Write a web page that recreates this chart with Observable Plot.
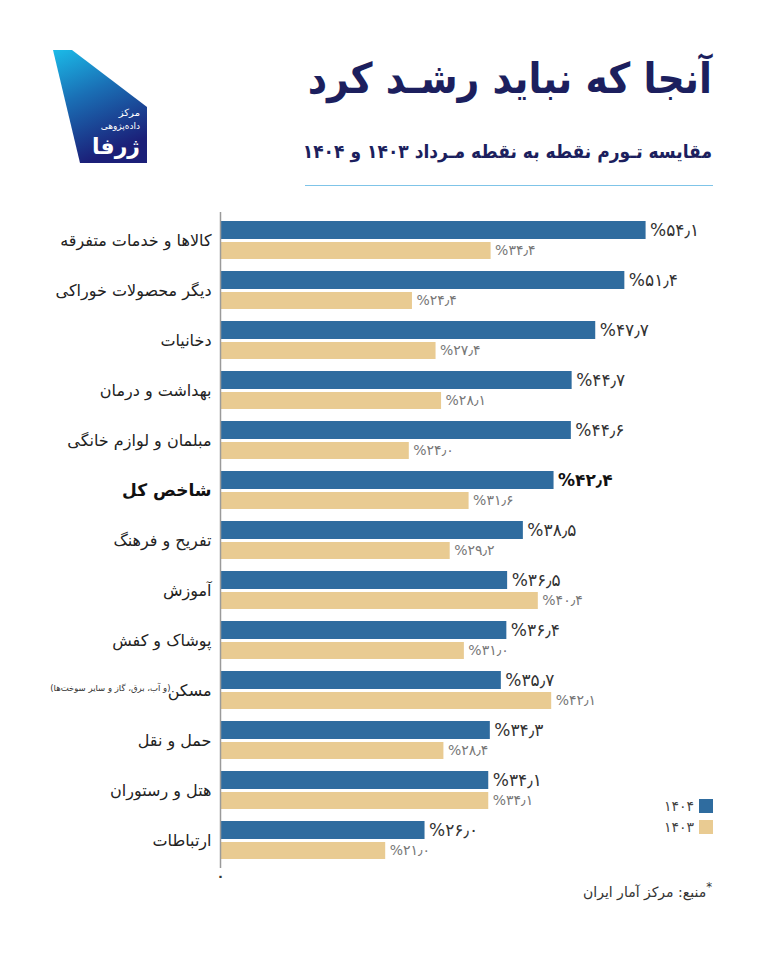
<!DOCTYPE html>
<html lang="fa">
<head>
<meta charset="utf-8">
<script src="https://cdn.jsdelivr.net/npm/d3@7"></script>
<script src="https://cdn.jsdelivr.net/npm/@observablehq/plot@0.6"></script>
<style>
  html, body { margin: 0; padding: 0; background: #fff; }
  body { width: 768px; height: 960px; position: relative; overflow: hidden; font-family: "DejaVu Sans", "Noto Sans", sans-serif; }
  .abs { position: absolute; }
  #title { right: 56px; top: 54px; font-family: "DejaVu Sans Condensed", "DejaVu Sans", sans-serif; font-size: 42px; font-weight: bold; color: #1c1f5e; direction: rtl; white-space: nowrap; line-height: 1.2; }
  #subtitle { right: 56px; top: 140px; font-family: "DejaVu Sans Condensed", "DejaVu Sans", sans-serif; font-size: 19px; color: #1c1f5e; direction: rtl; white-space: nowrap; font-weight: 600; }
  #rule { left: 305px; width: 408px; top: 185px; height: 1px; background: #7fc4e8; }
  #chart { left: 0; top: 200px; }
  #legend { right: 55px; top: 795px; font-size: 14px; color: #444; }
  #legend .row { display: flex; align-items: center; justify-content: flex-end; gap: 5px; height: 21px; }
  #legend .sw { width: 14px; height: 14px; display: inline-block; }
  #source { right: 56px; top: 880px; font-size: 14px; color: #333; direction: rtl; white-space: nowrap; }
</style>
</head>
<body>
<svg class="abs" style="left:0;top:0" width="170" height="180">
  <defs>
    <linearGradient id="lg" x1="0" y1="0" x2="0.35" y2="1">
      <stop offset="0" stop-color="#1bbbe8"/>
      <stop offset="0.45" stop-color="#1a6fb5"/>
      <stop offset="1" stop-color="#1b1f78"/>
    </linearGradient>
  </defs>
  <polygon points="53,50 72,50 147,107 147,163 80,163" fill="url(#lg)"/>
  <text x="140" y="116" fill="#fff" font-size="10" text-anchor="end">مرکز</text>
  <text x="140" y="129" fill="#fff" font-size="9" text-anchor="end">داده‌پژوهی</text>
  <text x="140" y="154" fill="#fff" font-size="22" font-weight="bold" text-anchor="end">ژرفا</text>
</svg>
<div id="title" class="abs">آنجا که نباید رشـد کرد</div>
<div id="subtitle" class="abs">مقایسه تـورم نقطه به نقطه مـرداد ۱۴۰۳ و ۱۴۰۴</div>
<div id="rule" class="abs"></div>
<div id="chart" class="abs"></div>
<div id="legend" class="abs">
  <div class="row"><span>۱۴۰۴</span><span class="sw" style="background:#2f6c9f"></span></div>
  <div class="row"><span>۱۴۰۳</span><span class="sw" style="background:#e9cb92"></span></div>
</div>
<div id="source" class="abs"><sup>*</sup>منبع: مرکز آمار ایران</div>
<script>
const categories = [
  "کالاها و خدمات متفرقه",
  "دیگر محصولات خوراکی",
  "دخانیات",
  "بهداشت و درمان",
  "مبلمان و لوازم خانگی",
  "شاخص کل",
  "تفریح و فرهنگ",
  "آموزش",
  "پوشاک و کفش",
  "مسکن",
  "حمل و نقل",
  "هتل و رستوران",
  "ارتباطات"
];
const values1404 = [54.1, 51.4, 47.7, 44.7, 44.6, 42.4, 38.5, 36.5, 36.4, 35.7, 34.3, 34.1, 26.0];
const values1403 = [34.4, 24.4, 27.4, 28.1, 24.0, 31.6, 29.2, 40.4, 31.0, 42.1, 28.4, 34.1, 21.0];
const boldCategory = "شاخص کل";
const noteCategory = "مسکن";
const noteText = "(و آب، برق، گاز و سایر سوخت‌ها)";
const zeroTick = "۰";

const BLUE = "#2f6c9f", BEIGE = "#e9cb92";
const fa = d => d.toFixed(1).replace(/\d/g, c => "۰۱۲۳۴۵۶۷۸۹"[c]).replace(".", "٫");
const rlm = s => "\u200F" + s + "\u200F";

const rows = categories.map((c, i) => ({cat: c, v4: values1404[i], v3: values1403[i]}));
const normalRows = rows.filter(d => d.cat !== boldCategory);
const boldRows = rows.filter(d => d.cat === boldCategory);

const chart = Plot.plot({
  width: 768,
  height: 688,
  marginLeft: 220,
  marginRight: 76,
  marginTop: 12,
  marginBottom: 20,
  style: {fontFamily: "DejaVu Sans, Noto Sans, sans-serif", background: "transparent"},
  x: {domain: [0, 60], axis: null},
  y: {domain: categories, paddingInner: 0.24, paddingOuter: 0.18, axis: null},
  marks: [
    Plot.barX(rows, {x: "v4", y: "cat", fill: BLUE, insetBottom: 20}),
    Plot.barX(rows, {x: "v3", y: "cat", fill: BEIGE, insetTop: 21}),
    Plot.ruleX([0], {stroke: "#9a9a9a", strokeWidth: 1.5}),
    Plot.axisX({ticks: [0], tickFormat: () => zeroTick, tickSize: 0, fontSize: 13, fontWeight: "bold", fill: "#333", tickPadding: 3}),
    Plot.text(normalRows, {x: "v4", y: "cat", text: d => "%" + fa(d.v4), textAnchor: "start", dx: 4, dy: -10, fontSize: 17, fill: "#333"}),
    Plot.text(boldRows, {x: "v4", y: "cat", text: d => "%" + fa(d.v4), textAnchor: "start", dx: 4, dy: -10, fontSize: 17, fontWeight: "bold", fill: "#111"}),
    Plot.text(rows, {x: "v3", y: "cat", text: d => "%" + fa(d.v3), textAnchor: "start", dx: 4, dy: 10, fontSize: 14, fill: "#777"}),
    Plot.text(normalRows, {y: "cat", text: d => rlm(d.cat), frameAnchor: "left", textAnchor: "end", dx: -9, fontSize: 16, fill: "#222"}),
    Plot.text(boldRows, {y: "cat", text: d => rlm(d.cat), frameAnchor: "left", textAnchor: "end", dx: -9, fontSize: 17, fontWeight: "bold", fill: "#111"}),
    Plot.text(rows.filter(d => d.cat === noteCategory), {y: "cat", text: () => rlm(noteText), frameAnchor: "left", textAnchor: "end", dx: -50, dy: -2, fontSize: 8.5, fill: "#333"})
  ]
});
document.getElementById("chart").appendChild(chart);
</script>
</body>
</html>
